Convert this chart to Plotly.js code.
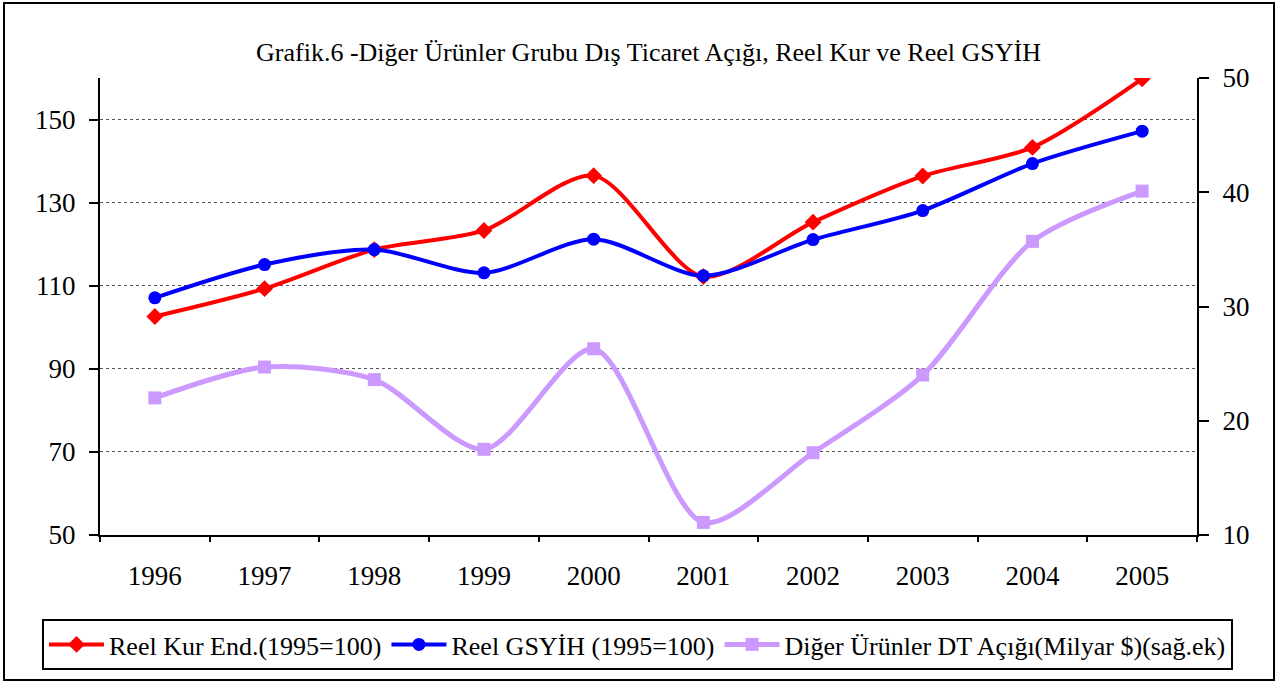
<!DOCTYPE html>
<html>
<head>
<meta charset="utf-8">
<script src="https://cdn.plot.ly/plotly-3.0.1.min.js"></script>
<style>
  html, body { margin: 0; padding: 0; background: #fff; }
  #chart { width: 1277px; height: 686px; }
</style>
</head>
<body>
<div id="chart"></div>
<script>
const years = ["1996", "1997", "1998", "1999", "2000", "2001", "2002", "2003", "2004", "2005"];
const reelKur = [102.6, 109.3, 118.7, 123.3, 136.5, 112.2, 125.3, 136.4, 143.3, 159.8];
const reelGsyih = [107.1, 115.1, 118.7, 113.1, 121.2, 112.4, 121.1, 128.1, 139.4, 147.2];
const dtAcigi = [22.0, 24.7, 23.6, 17.5, 26.3, 11.1, 17.2, 24.0, 35.7, 40.1];
const leftTicks = [50, 70, 90, 110, 130, 150];
const rightTicks = [10, 20, 30, 40, 50];

const seriesNames = [
  "Reel Kur End.(1995=100)",
  "Reel GSYİH (1995=100)",
  "Diğer Ürünler DT Açığı(Milyar $)(sağ.ek)"
];
const titleText = "Grafik.6 -Diğer Ürünler Grubu Dış Ticaret Açığı, Reel Kur ve Reel GSYİH";

const FONT = "'Times New Roman', 'Liberation Serif', 'DejaVu Serif', serif";

const traces = [
  {
    x: years, y: reelKur, name: seriesNames[0], type: "scatter", mode: "lines+markers",
    line: { color: "#FF0000", width: 4, shape: "spline", smoothing: 0.8 },
    marker: { symbol: "diamond", size: 13, color: "#FF0000" },
    xaxis: "x", yaxis: "y"
  },
  {
    x: years, y: reelGsyih, name: seriesNames[1], type: "scatter", mode: "lines+markers",
    line: { color: "#0000FF", width: 4, shape: "spline", smoothing: 0.8 },
    marker: { symbol: "circle", size: 13, color: "#0000FF" },
    xaxis: "x", yaxis: "y"
  },
  {
    x: years, y: dtAcigi, name: seriesNames[2], type: "scatter", mode: "lines+markers",
    line: { color: "#CC99FF", width: 5, shape: "spline", smoothing: 0.8 },
    marker: { symbol: "square", size: 13, color: "#CC99FF" },
    xaxis: "x", yaxis: "y2"
  }
];

const axFont = { family: FONT, size: 27, color: "#000" };

const layout = {
  width: 1277, height: 686,
  margin: { l: 100, r: 80, t: 78, b: 151 },
  paper_bgcolor: "#fff", plot_bgcolor: "#fff",
  font: { family: FONT, color: "#000" },
  showlegend: true,
  title: {
    text: titleText,
    font: { family: FONT, size: 26, color: "#000" },
    x: 0.5, xref: "paper", xanchor: "center",
    y: 1 - 52 / 686, yref: "container", yanchor: "middle"
  },
  xaxis: {
    type: "category", range: [-0.5, 9.5],
    showline: true, linecolor: "#000", linewidth: 2,
    ticks: "outside", ticklen: 5, tickwidth: 2, tickcolor: "#000",
    tickson: "boundaries",
    showgrid: false, zeroline: false,
    tickfont: axFont, ticklabelstandoff: 16,
    fixedrange: true
  },
  xaxis2: {
    type: "linear", range: [0, 10], overlaying: "x", anchor: "y",
    tickmode: "linear", tick0: 0, dtick: 1,
    ticks: "inside", ticklen: 11, tickwidth: 2, tickcolor: "#000",
    showticklabels: false, showline: false, showgrid: false, zeroline: false
  },
  yaxis: {
    range: [50, 160], tickmode: "array", tickvals: leftTicks,
    showline: true, linecolor: "#000", linewidth: 2,
    ticks: "outside", ticklen: 9, tickwidth: 2, tickcolor: "#000",
    showgrid: true, gridcolor: "#555", griddash: "dot", gridwidth: 1,
    zeroline: false, tickfont: axFont, ticklabelstandoff: 8
  },
  yaxis3: {
    range: [50, 160], tickmode: "array", tickvals: leftTicks,
    overlaying: "y", anchor: "x", side: "left",
    ticks: "inside", ticklen: 9, tickwidth: 2, tickcolor: "#000",
    showticklabels: false, showline: false, showgrid: false, zeroline: false
  },
  yaxis2: {
    range: [10, 50], tickmode: "array", tickvals: rightTicks,
    overlaying: "y", side: "right", anchor: "x",
    showline: true, linecolor: "#000", linewidth: 2,
    ticks: "outside", ticklen: 10, tickwidth: 2, tickcolor: "#000",
    showgrid: false, zeroline: false, tickfont: axFont, ticklabelstandoff: 8
  },
  yaxis4: {
    range: [10, 50], tickmode: "array", tickvals: rightTicks,
    overlaying: "y", side: "right", anchor: "x",
    ticks: "inside", ticklen: 9, tickwidth: 2, tickcolor: "#000",
    showticklabels: false, showline: false, showgrid: false, zeroline: false
  },
  legend: {
    orientation: "h",
    x: (42 - 100) / 1097, xanchor: "left",
    y: (535 - 619) / 457, yanchor: "top",
    bordercolor: "#000", borderwidth: 2, bgcolor: "#fff",
    font: { family: FONT, size: 26, color: "#000" },
    itemwidth: 55, tracegroupgap: 0,
    traceorder: "normal"
  },
  shapes: [
    {
      type: "rect", xref: "paper", yref: "paper",
      x0: (4 - 100) / 1097, x1: (1274 - 100) / 1097,
      y0: (535 - 680) / 457, y1: (535 - 3) / 457,
      line: { color: "#000", width: 2 }, fillcolor: "rgba(0,0,0,0)", layer: "below"
    }
  ]
};

Plotly.newPlot("chart", traces, layout, { staticPlot: true, displayModeBar: false });
</script>
</body>
</html>
